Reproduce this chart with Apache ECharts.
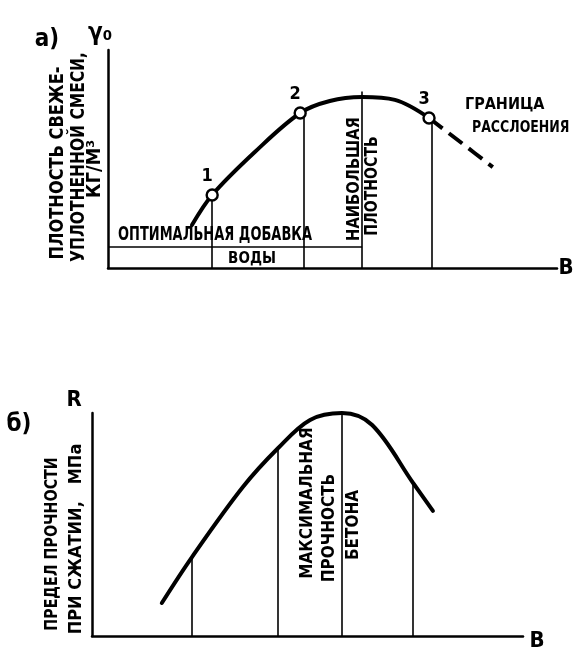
<!DOCTYPE html>
<html>
<head>
<meta charset="utf-8">
<script src="https://cdn.jsdelivr.net/npm/echarts@6/dist/echarts.min.js"></script>
<style>
html,body{margin:0;padding:0;background:#fff;}
#c{width:575px;height:652px;}
</style>
</head>
<body>
<div id="c"></div>
<script>
// ---- top chart (a): density of fresh compacted mix vs water B ----
const topCurveX = [18.7, 23.2, 32.7, 42.8, 49.4, 56.6, 63.9, 71.5];
const topCurveY = [19.7, 33.5, 53.2, 71.1, 76.6, 78.4, 77.1, 68.8];
const topDashX = [71.5, 78.4, 85.7];
const topDashY = [68.8, 57.9, 46.3];
const topPointX = [23.2, 42.8, 71.5];
const topPointY = [33.5, 71.1, 68.8];
const topPointLabels = ['1', '2', '3'];
const topVertX = [23.2, 43.5, 56.6, 72.0];
const topVertY = [33.5, 71.1, 81.0, 68.8];
const topBandY = 9.6;      // "optimal water addition" band line
const topBandEndX = 56.6;

// ---- bottom chart (б): compressive strength vs water B ----
const botCurveX = [16.2, 23.2, 35.0, 43.2, 50.6, 58.0, 65.0, 74.5, 79.1];
const botCurveY = [14.8, 35.4, 66.8, 84.3, 96.9, 100, 94.6, 68.6, 56.1];
const botVertX = [23.2, 43.2, 58.0, 74.5];
const botVertY = [35.4, 84.3, 100, 68.6];

const zip = (xs, ys) => xs.map((x, i) => [x, ys[i]]);
const FONT = "'DejaVu Sans Condensed', 'DejaVu Sans', sans-serif";

const chart = echarts.init(document.getElementById('c'), null, {renderer: 'canvas'});

const axisLine = {show: true, onZero: false, lineStyle: {color: '#000', width: 2.5}};
const hiddenAxisBits = {axisTick: {show: false}, axisLabel: {show: false}, splitLine: {show: false}};

function vertLines(xs, ys) {
  return xs.map((x, i) => [{coord: [x, 0]}, {coord: [x, ys[i]]}]);
}

function txt(text, x, y, size, rot, sx, align) {
  return {
    type: 'text', x: x, y: y, rotation: rot || 0, scaleX: sx || 1, silent: true,
    style: {
      text: text, fill: '#000', fontFamily: FONT, fontWeight: 'bold', fontSize: size,
      align: align || 'center', verticalAlign: 'middle'
    }
  };
}
const UP = Math.PI / 2;

const option = {
  backgroundColor: '#fff',
  animation: false,
  grid: [
    {left: 108, right: 18, top: 50, height: 218},
    {left: 92, right: 52, top: 413, height: 223}
  ],
  xAxis: [
    Object.assign({type: 'value', gridIndex: 0, min: 0, max: 100, axisLine: axisLine}, hiddenAxisBits),
    Object.assign({type: 'value', gridIndex: 1, min: 0, max: 100, axisLine: axisLine}, hiddenAxisBits)
  ],
  yAxis: [
    Object.assign({type: 'value', gridIndex: 0, min: 0, max: 100, axisLine: axisLine}, hiddenAxisBits),
    Object.assign({type: 'value', gridIndex: 1, min: 0, max: 100, axisLine: axisLine}, hiddenAxisBits)
  ],
  series: [
    {
      type: 'line', xAxisIndex: 0, yAxisIndex: 0, data: zip(topCurveX, topCurveY),
      smooth: 0.35, symbol: 'none', clip: false,
      lineStyle: {color: '#000', width: 4, cap: 'round'},
      markLine: {
        silent: true, symbol: 'none', label: {show: false}, animation: false,
        lineStyle: {color: '#000', width: 1.6, type: 'solid'},
        data: vertLines(topVertX, topVertY).concat([[{coord: [0, topBandY]}, {coord: [topBandEndX, topBandY]}]])
      }
    },
    {
      type: 'line', xAxisIndex: 0, yAxisIndex: 0, data: zip(topDashX, topDashY),
      smooth: 0.3, symbol: 'none', clip: false,
      lineStyle: {color: '#000', width: 4, type: [17, 8]}
    },
    {
      type: 'scatter', xAxisIndex: 0, yAxisIndex: 0,
      data: topPointX.map((x, i) => ({value: [x, topPointY[i]], name: topPointLabels[i]})),
      symbol: 'circle', symbolSize: 11, clip: false,
      itemStyle: {color: '#fff', borderColor: '#000', borderWidth: 2.4, opacity: 1},
      label: {
        show: true, position: 'top', distance: 3, offset: [-5, 0],
        formatter: p => p.name, color: '#000', fontFamily: FONT, fontWeight: 'bold', fontSize: 18
      },
      z: 5
    },
    {
      type: 'line', xAxisIndex: 1, yAxisIndex: 1, data: zip(botCurveX, botCurveY),
      smooth: 0.35, symbol: 'none', clip: false,
      lineStyle: {color: '#000', width: 4, cap: 'round'},
      markLine: {
        silent: true, symbol: 'none', label: {show: false}, animation: false,
        lineStyle: {color: '#000', width: 1.6, type: 'solid'},
        data: vertLines(botVertX, botVertY)
      }
    }
  ],
  graphic: [
    txt('а)', 47, 40, 24, 0),
    txt('γ₀', 100, 34, 24, 0),
    txt('ПЛОТНОСТЬ СВЕЖЕ-', 58, 163, 20, UP, 0.9),
    txt('УПЛОТНЕННОЙ СМЕСИ,', 79, 157, 20, UP, 0.86),
    txt('КГ/М³', 95, 169, 19, UP, 1.05),
    txt('НАИБОЛЬШАЯ', 355, 179, 17, UP, 0.96),
    txt('ПЛОТНОСТЬ', 373, 186, 17, UP, 0.92),
    txt('ОПТИМАЛЬНАЯ ДОБАВКА', 215, 235, 19, 0, 0.76),
    txt('ВОДЫ', 252, 259, 15, 0),
    txt('ГРАНИЦА', 465, 105, 16, 0, 1, 'left'),
    txt('РАССЛОЕНИЯ', 472, 128, 16, 0, 0.87, 'left'),
    txt('В', 566, 268, 22, 0),
    txt('б)', 19, 425, 24, 0),
    txt('R', 74, 400, 22, 0),
    txt('ПРЕДЕЛ ПРОЧНОСТИ', 52, 544, 18, UP, 0.88),
    txt('ПРИ СЖАТИИ,   МПа', 76, 539, 18, UP),
    txt('МАКСИМАЛЬНАЯ', 308, 503, 17, UP),
    txt('ПРОЧНОСТЬ', 330, 528, 17, UP),
    txt('БЕТОНА', 354, 525, 17, UP),
    txt('В', 537, 641, 22, 0)
  ]
};
chart.setOption(option);
</script>
</body>
</html>
